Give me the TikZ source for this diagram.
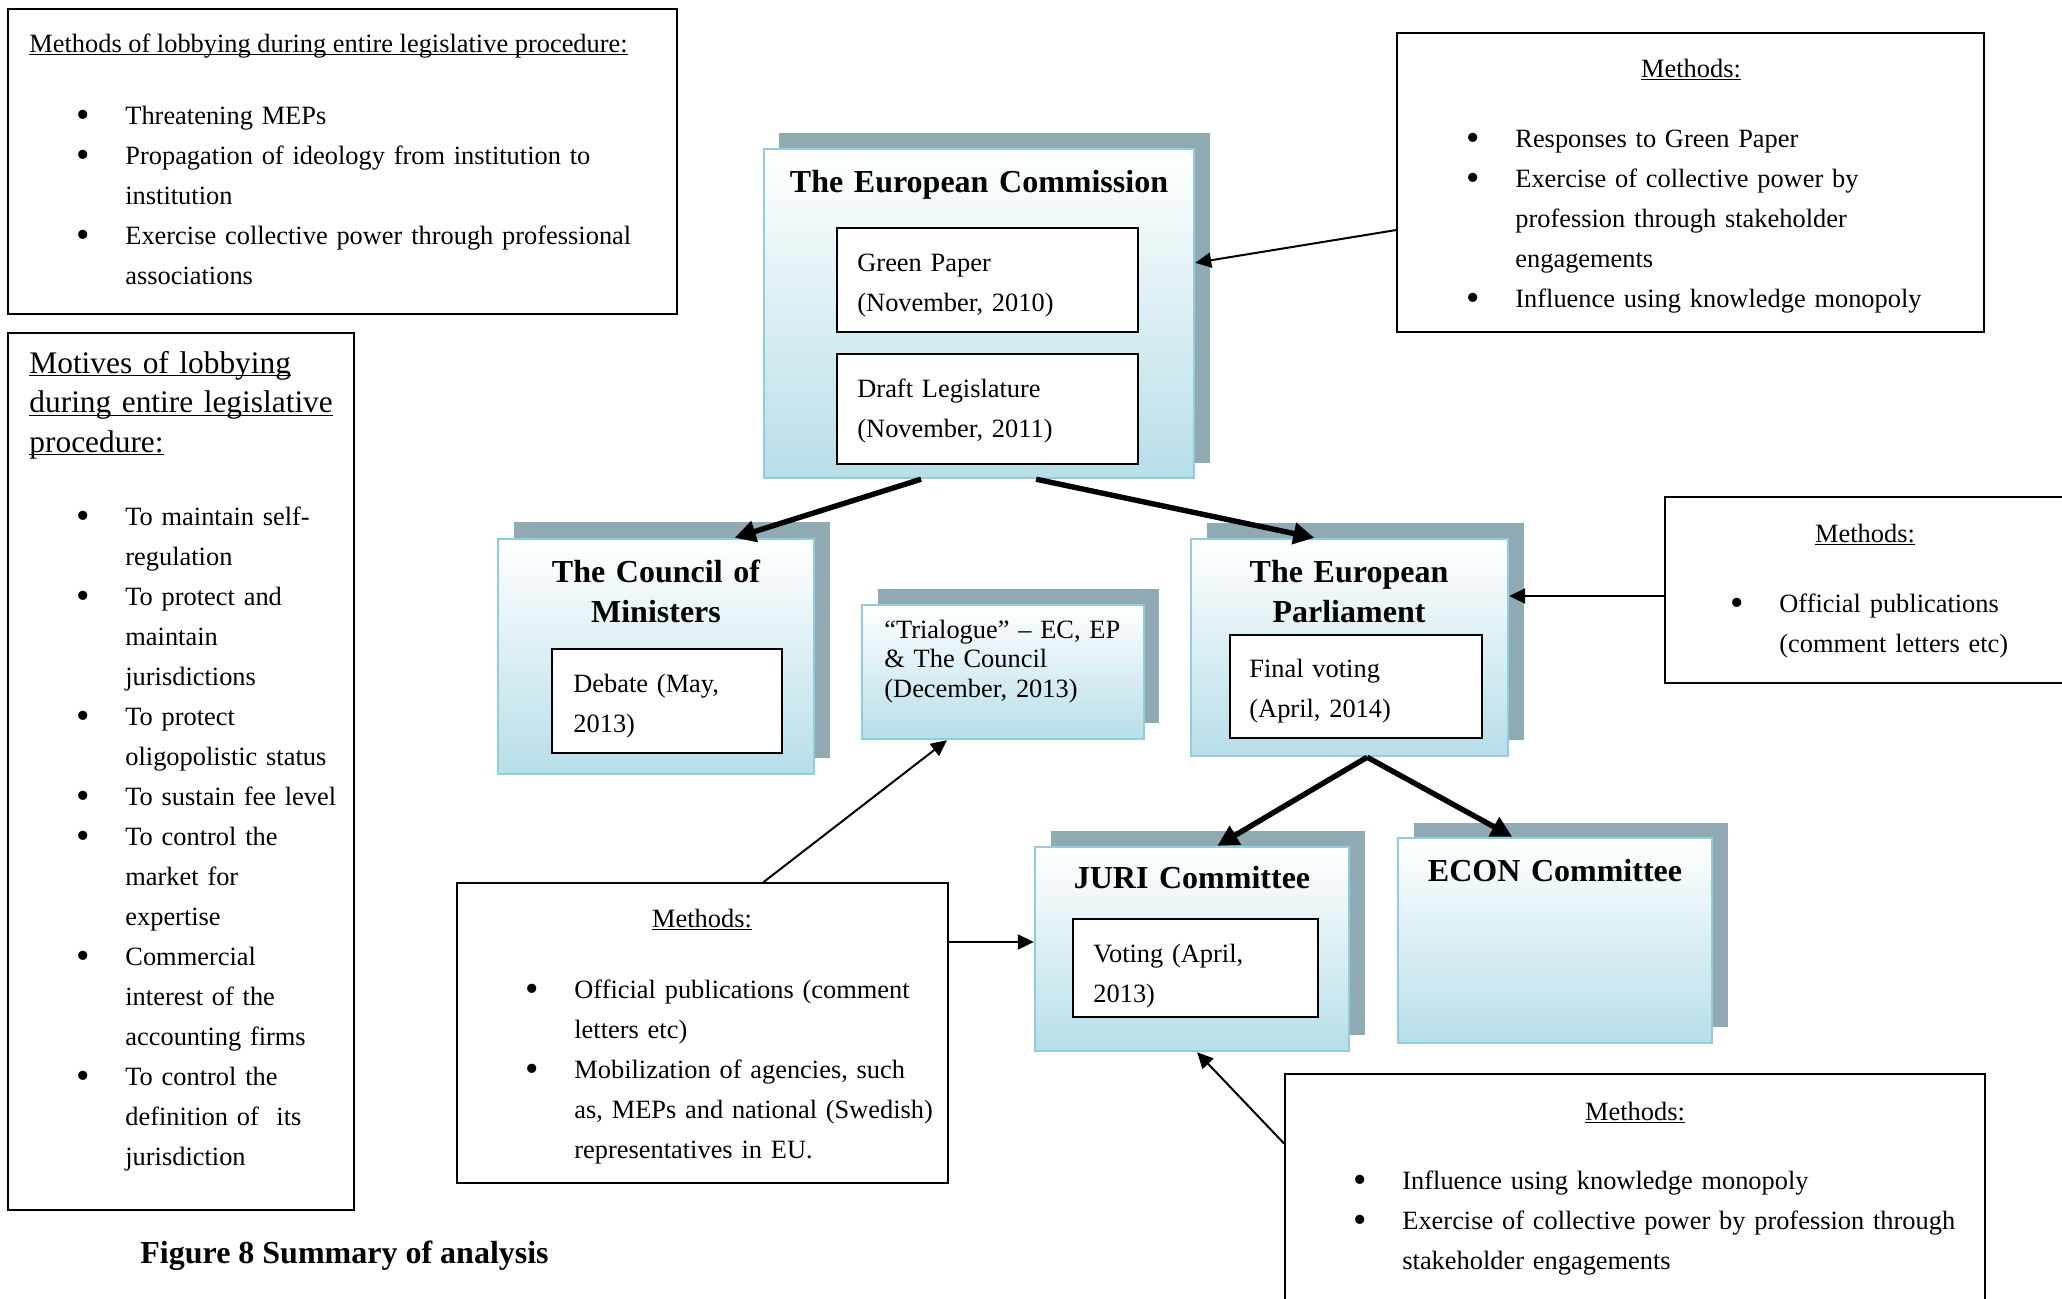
\documentclass[tikz,border=0pt]{standalone}
\usepackage{fontspec}
\usepackage{graphicx}
\setmainfont{Liberation Serif}
\usetikzlibrary{arrows.meta,fit,calc}
\definecolor{boxblue}{HTML}{B7DEE8}
\definecolor{boxedge}{HTML}{92CDDC}
\definecolor{shadowc}{HTML}{8FAAB3}
\newcommand\bul{\makebox[0pt][c]{\raisebox{-1.5pt}{\scalebox{1.45}{\textbullet}}}}
\newcommand\bfirst{\leavevmode\llap{\bul\hspace{21pt}}}
\newcommand\bitem{\par\bfirst}
\newcommand\wul[1]{\setbox0\hbox{#1}\rlap{\rule[-1.7pt]{\wd0}{0.7pt}}\box0}
\tikzset{
  x=0.5pt, y=-0.5pt,
  frame/.style={draw=black, line width=1pt, fill=white, inner sep=0pt},
  shadowbox/.style={fill=shadowc, draw=none, inner sep=0pt},
  bluebox/.style={draw=boxedge, line width=1.2pt, top color=white, bottom color=boxblue, inner sep=0pt},
  inbox/.style={draw=black, line width=1.1pt, fill=white, inner sep=0pt},
  body/.style={font=\fontsize{13.2pt}{20pt}\selectfont, inner sep=0pt},
  txt/.style={body, text width=400pt, anchor=base west},
  ctitle/.style={body, anchor=base},
  head/.style={font=\fontsize{16pt}{20pt}\selectfont\bfseries, inner sep=0pt, anchor=base, text width=200pt, align=center},
  bigarrow/.style={line width=2.7pt, -{Triangle[length=10.5pt,width=10.5pt]}},
  smallarrow/.style={line width=1pt, -{Triangle[length=8pt,width=7.5pt]}},
}
\begin{document}
\begin{tikzpicture}
\useasboundingbox (0,0) rectangle (2062,1298);
\clip (0,0) rectangle (2062,1298);
\fill[white] (0,0) rectangle (2062,1298);

% ---------- left text boxes ----------
\node[frame, fit={(8,9) (677,314)}] (tlm) {};
\node[body, anchor=base west] (tlm-t) at (29,52) {\wul{Methods of lobbying during entire legislative procedure:}};
\node[txt] (tlm-l) at (125,124) {\bfirst Threatening MEPs\bitem Propagation of ideology from institution to\newline institution\bitem Exercise collective power through professional\newline associations};

\node[frame, fit={(8,333) (354,1210)}] (mot) {};
\node[font=\fontsize{15.7pt}{19.75pt}\selectfont, inner sep=0pt, text width=300pt, anchor=base west] (mot-t) at (29,373) {\wul{Motives of lobbying}\newline\wul{during entire legislative}\newline\wul{procedure:}};
\node[txt] (mot-l) at (125,525) {\bfirst To maintain self-\newline regulation\bitem To protect and\newline maintain\newline jurisdictions\bitem To protect\newline oligopolistic status\bitem To sustain fee level\bitem To control the\newline market for\newline expertise\bitem Commercial\newline interest of the\newline accounting firms\bitem To control the\newline definition of\ \ its\newline jurisdiction};

\node[font=\fontsize{16pt}{20pt}\selectfont\bfseries, inner sep=0pt, anchor=base west] (cap) at (140,1263) {Figure 8 Summary of analysis};

% ---------- European Commission ----------
\node[shadowbox, fit={(779,133) (1210,463)}] (ec-s) {};
\node[bluebox, fit={(764,149) (1194,478)}] (ec) {};
\node[head, text width=300pt] (ec-t) at (979,192) {The European Commission};
\node[inbox, fit={(837,228) (1138,332)}] (gp) {};
\node[txt] (gp-t) at (857,271) {Green Paper\newline(November, 2010)};
\node[inbox, fit={(837,354) (1138,464)}] (dl) {};
\node[txt] (dl-t) at (857,397) {Draft Legislature\newline(November, 2011)};

% ---------- Council ----------
\node[shadowbox, fit={(514,522) (830,758)}] (com-s) {};
\node[bluebox, fit={(498,539) (814,774)}] (com) {};
\node[head] (com-t) at (656,582) {The Council of\\Ministers};
\node[inbox, fit={(552,649) (782,753)}] (deb) {};
\node[txt] (deb-t) at (573,692) {Debate (May,\newline 2013)};

% ---------- Trialogue ----------
\node[shadowbox, fit={(878,589) (1159,723)}] (tri-s) {};
\node[bluebox, fit={(862,605) (1144,739)}] (tri) {};
\node[txt, font=\fontsize{13.2pt}{14.75pt}\selectfont] (tri-t) at (884,638) {“Trialogue” – EC, EP\newline\& The Council\newline(December, 2013)};

% ---------- European Parliament ----------
\node[shadowbox, fit={(1207,523) (1524,740)}] (ep-s) {};
\node[bluebox, fit={(1191,539) (1508,756)}] (ep) {};
\node[head] (ep-t) at (1349,582) {The European\\Parliament};
\node[inbox, fit={(1230,635) (1482,738)}] (fv) {};
\node[txt] (fv-t) at (1249,677) {Final voting\newline(April, 2014)};

% ---------- JURI ----------
\node[shadowbox, fit={(1051,831) (1365,1035)}] (juri-s) {};
\node[bluebox, fit={(1035,847) (1349,1051)}] (juri) {};
\node[head] (juri-t) at (1192,888) {JURI Committee};
\node[inbox, fit={(1073,919) (1318,1017)}] (vot) {};
\node[txt] (vot-t) at (1093,962) {Voting (April,\newline 2013)};

% ---------- ECON ----------
\node[shadowbox, fit={(1414,823) (1728,1027)}] (econ-s) {};
\node[bluebox, fit={(1398,838) (1712,1043)}] (econ) {};
\node[head] (econ-t) at (1555,881) {ECON Committee};

% ---------- Methods boxes ----------
\node[frame, fit={(1397,33) (1984,332)}] (trm) {};
\node[ctitle] (trm-t) at (1691,77) {\wul{Methods:}};
\node[txt] (trm-l) at (1515,147) {\bfirst Responses to Green Paper\bitem Exercise of collective power by\newline profession through stakeholder\newline engagements\bitem Influence using knowledge monopoly};

\node[frame, fit={(1665,497) (2090,683)}] (rmm) {};
\node[ctitle] (rmm-t) at (1865,542) {\wul{Methods:}};
\node[txt] (rmm-l) at (1779,612) {\bfirst Official publications\newline(comment letters etc)};

\node[frame, fit={(457,883) (948,1183)}] (bmm) {};
\node[ctitle] (bmm-t) at (702,927) {\wul{Methods:}};
\node[txt] (bmm-l) at (574,998) {\bfirst Official publications (comment\newline letters etc)\bitem Mobilization of agencies, such\newline as, MEPs and national (Swedish)\newline representatives in EU.};

\node[frame, fit={(1285,1074) (1985,1320)}] (brm) {};
\node[ctitle] (brm-t) at (1635,1120) {\wul{Methods:}};
\node[txt] (brm-l) at (1402,1189) {\bfirst Influence using knowledge monopoly\bitem Exercise of collective power by profession through\newline stakeholder engagements};

% ---------- connectors ----------
\draw[bigarrow] ($(ec.south west)!0.366!(ec.south east)$) -- ($(com.north west)!0.747!(com.north east)$);
\draw[bigarrow] ($(ec.south west)!0.632!(ec.south east)$) -- ($(ep.north west)!0.39!(ep.north east)$);
\coordinate (epfork) at ($(ep.south west)!0.555!(ep.south east)$);
\draw[bigarrow] (epfork) -- ($(juri.north west)!0.58!(juri.north east)$);
\draw[bigarrow] (epfork) -- ($(econ.north west)!0.365!(econ.north east)$);

\draw[smallarrow] ($(trm.north west)!0.658!(trm.south west)$) -- ($(ec.north east)!0.347!(ec.south east)$);
\draw[smallarrow] (rmm.west |- 0,596) -- (ep.east |- 0,596);
\draw[smallarrow] ($(bmm.north west)!0.624!(bmm.north east)$) -- ($(tri.south west)!0.303!(tri.south east)$);
\draw[smallarrow] (bmm.east |- 0,942) -- (juri.west |- 0,942);
\draw[smallarrow] ($(brm.north west)!0.284!(brm.south west)$) -- ($(juri.south west)!0.516!(juri.south east)$);
\end{tikzpicture}
\end{document}
